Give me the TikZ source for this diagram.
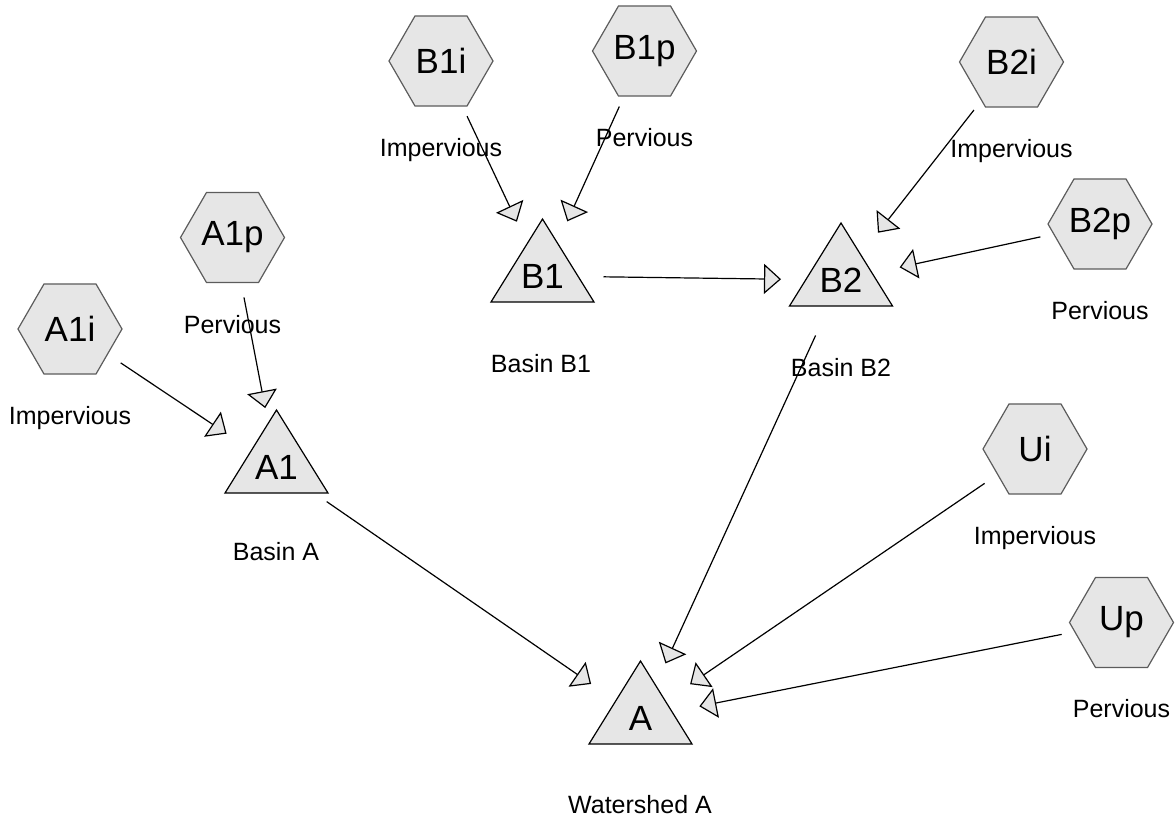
\documentclass[tikz,border=0pt]{standalone}
\usepackage{fontspec}
\setmainfont{Liberation Sans}
\usetikzlibrary{arrows.meta,shapes.geometric}
\definecolor{shapefill}{HTML}{E6E6E6}
\definecolor{hexline}{HTML}{5C5C5C}
\tikzset{
  hexnode/.style={regular polygon, regular polygon sides=6, minimum size=104pt,
    inner sep=0pt, outer sep=0pt, fill=shapefill, draw=hexline, line width=1.2pt,
    font=\fontsize{35}{40}\selectfont},
  basintext/.style={inner sep=0pt, font=\fontsize{35}{40}\selectfont},
  tribody/.style={fill=shapefill, draw=black, line width=1.2pt, line join=miter},
  lbl/.style={anchor=base, inner sep=0pt, font=\fontsize{25}{30}\selectfont},
  flow/.style={draw=black, line width=1.2pt, shorten <=61pt, shorten >=60pt,
    -{Triangle[width=30pt,length=17pt,fill=shapefill]}},
}
\newcommand\basinnode[4]{%
  \filldraw[tribody] (#2-51.5,#3+26) -- (#2+51.5,#3+26) -- (#2,#3-57) -- cycle;
  \node[basintext] (#1) at (#2,#3) {#4};}
\begin{document}
\begin{tikzpicture}[x=1pt,y=-1pt]
\useasboundingbox (0,0) rectangle (1175,824);
% hexagons
\node[hexnode] (A1i) at (70,329) {A1i};
\node[hexnode] (A1p) at (232.5,237.5) {A1p};
\node[hexnode] (B1i) at (441,61) {B1i};
\node[hexnode] (B1p) at (644.5,51) {B1p};
\node[hexnode] (B2i) at (1011.5,62) {B2i};
\node[hexnode] (B2p) at (1100,224) {B2p};
\node[hexnode] (Ui) at (1035,449) {Ui};
\node[hexnode] (Up) at (1121.5,622.5) {Up};
% basins
\basinnode{A1}{276.5}{467}{A1}
\basinnode{B1}{542.5}{276}{B1}
\basinnode{B2}{841}{280}{B2}
\basinnode{A}{640.5}{718}{A}
% labels
\node[lbl] (lA1i) at (70,424.5) {Impervious};
\node[lbl] (lA1p) at (232.5,333) {Pervious};
\node[lbl] (lB1i) at (441,156.5) {Impervious};
\node[lbl] (lB1p) at (644.5,146.5) {Pervious};
\node[lbl] (lB2i) at (1011.5,157.5) {Impervious};
\node[lbl] (lB2p) at (1100,319) {Pervious};
\node[lbl] (lUi) at (1035,544.5) {Impervious};
\node[lbl] (lUp) at (1121.5,717) {Pervious};
\node[lbl] (lA1) at (276,560) {Basin A};
\node[lbl] (lB1) at (541,372) {Basin B1};
\node[lbl] (lB2) at (841,376) {Basin B2};
\node[lbl] (lA) at (640,813) {Watershed A};
% connectors
\draw[flow] (A1i.center) -- (A1.center);
\draw[flow] (A1p.center) -- (A1.center);
\draw[flow] (B1i.center) -- (B1.center);
\draw[flow] (B1p.center) -- (B1.center);
\draw[flow] (B1.center) -- (B2.center);
\draw[flow] (B2i.center) -- (B2.center);
\draw[flow] (B2p.center) -- (B2.center);
\draw[flow] (A1.center) -- (A.center);
\draw[flow] (B2.center) -- (A.center);
\draw[flow] (Ui.center) -- (A.center);
\draw[flow] (Up.center) -- (A.center);
\end{tikzpicture}
\end{document}
